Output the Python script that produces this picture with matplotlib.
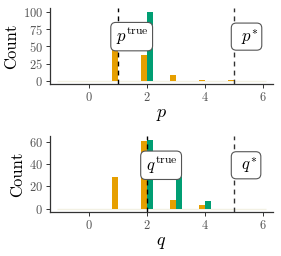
import matplotlib
matplotlib.use("Agg")
import matplotlib.pyplot as plt
import numpy as np

plt.rcParams['font.family'] = 'cmr10'
plt.rcParams['mathtext.fontset'] = 'cm'
plt.rcParams['axes.unicode_minus'] = False
plt.rcParams['axes.formatter.use_mathtext'] = True

positions = [-1, 0, 1, 2, 3, 4, 5, 6]
p_orange = [0, 0, 53, 37, 8, 1, 1, 0]
p_green = [0, 0, 0, 100, 0, 0, 0, 0]
q_orange = [0, 0, 28, 61, 8, 3, 0, 0]
q_green = [0, 0, 0, 62, 31, 7, 0, 0]

p_true, p_star = 1, 5
q_true, q_star = 2, 5

orange = '#E69F00'
green = '#009E73'

fig = plt.figure(figsize=(2.81, 2.56), dpi=100)
W, H = 281, 256

def make_ax(top, bottom):
    return fig.add_axes([50 / W, 1 - bottom / H, (272.7 - 50) / W, (bottom - top) / H])

panels = [
    dict(top=8.3, bottom=84.3, o=p_orange, g=p_green, true=p_true, star=p_star,
         var='p', ylim=(-5, 105), yticks=[0, 25, 50, 75, 100], labely=64,
         true_left=0.78, star_left=4.93),
    dict(top=136.3, bottom=212.0, o=q_orange, g=q_green, true=q_true, star=q_star,
         var='q', ylim=(-3.1, 65.1), yticks=[0, 20, 40, 60], labely=39,
         true_left=1.81, star_left=4.93),
]

w = 0.22
x = np.array(positions, dtype=float)
for P in panels:
    ax = make_ax(P['top'], P['bottom'])
    o = np.array(P['o']); g = np.array(P['g'])
    ax.hlines(0, x.min() - w / 2, x.max() + w / 2, color='#f3f1e4', linewidth=1.0, zorder=1)
    ax.bar(x[o > 0] - w / 2, o[o > 0], width=w, color=orange, linewidth=0, zorder=2)
    ax.bar(x[g > 0] + w / 2, g[g > 0], width=w, color=green, linewidth=0, zorder=2)
    ax.axvline(P['true'], color='black', linestyle=(0, (3.5, 3)), linewidth=1.0, zorder=3)
    ax.axvline(P['star'], color='#333333', linestyle=(0, (3.5, 3)), linewidth=1.0, zorder=3)
    bbox = dict(boxstyle='round,pad=0.22,rounding_size=0.3', fc='white', ec='#555555', lw=0.8)
    ax.text(P['true_left'] + 0.1, P['labely'], r'$\,%s^{\mathrm{true}}\,$' % P['var'],
            ha='left', va='center', fontsize=12, bbox=bbox, zorder=4)
    ax.text(P['star_left'] + 0.1, P['labely'], r'$\;\,%s^{*}\;\,$' % P['var'],
            ha='left', va='center', fontsize=12, bbox=bbox, zorder=4)
    ax.set_xlim(-1.34, 6.33)
    ax.set_ylim(*P['ylim'])
    ax.set_xticks([0, 2, 4, 6])
    ax.set_yticks(P['yticks'])
    for s in ['top', 'right']:
        ax.spines[s].set_visible(False)
    for s in ['left', 'bottom']:
        ax.spines[s].set_linewidth(0.9)
        ax.spines[s].set_color('#333333')
    ax.tick_params(axis='both', labelsize=9, labelcolor='#555555', color='#333333',
                   length=3, width=0.7, pad=2)
    ax.set_ylabel('Count', fontsize=12, labelpad=3)
    ax.set_xlabel(r'$%s$' % P['var'], fontsize=13, labelpad=2)

fig.savefig('out.png', dpi=100)
